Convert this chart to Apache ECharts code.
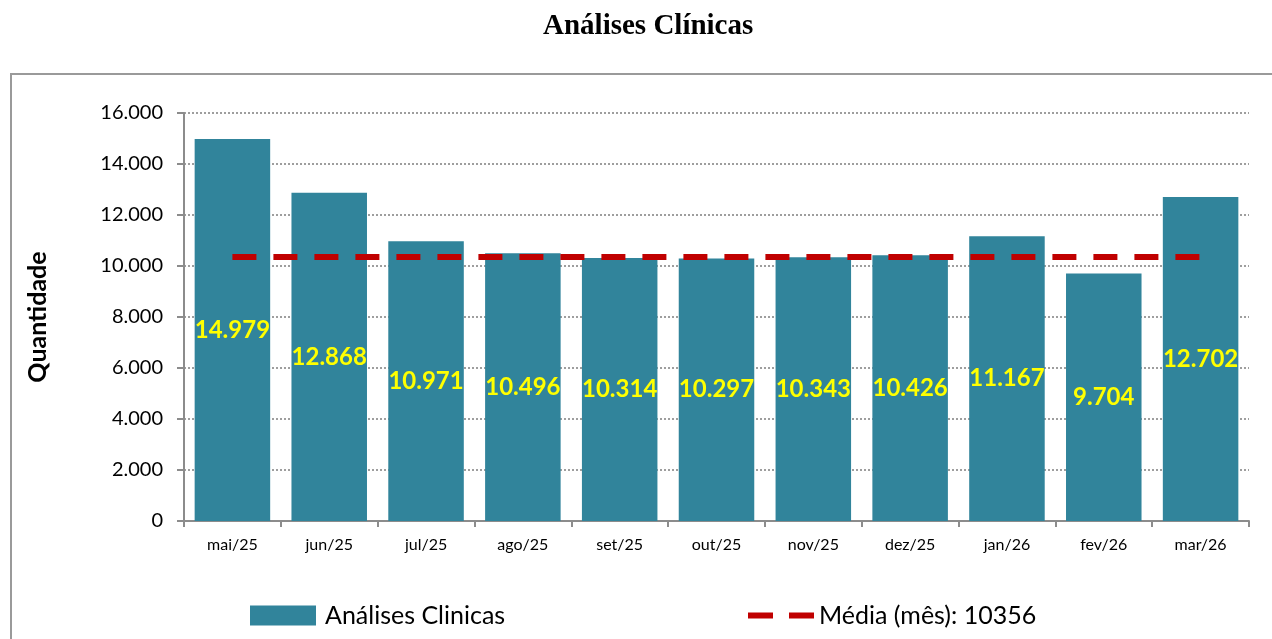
<!DOCTYPE html>
<html>
<head>
<meta charset="utf-8">
<script src="https://cdn.jsdelivr.net/npm/echarts@6/dist/echarts.min.js"></script>
<style>
  html, body { margin: 0; padding: 0; background: #fff; }
  #chart { width: 1272px; height: 639px; }
</style>
</head>
<body>
<div id="chart"></div>
<script>
// dados do gráfico
const meses = ['mai/25', 'jun/25', 'jul/25', 'ago/25', 'set/25', 'out/25', 'nov/25', 'dez/25', 'jan/26', 'fev/26', 'mar/26'];
const quantidade = [14979, 12868, 10971, 10496, 10314, 10297, 10343, 10426, 11167, 9704, 12702];
const mediaMes = 10356;
const media = meses.map(() => mediaMes);
const yTicks = [0, 2000, 4000, 6000, 8000, 10000, 12000, 14000, 16000];

const fmt = (v) => String(v).replace(/\B(?=(\d{3})+(?!\d))/g, '.');
const fonte = 'Lato, "Noto Sans", sans-serif';

let chart = echarts.init(document.getElementById('chart'));

chart.setOption({
  animation: false,
  title: {
    text: 'Análises Clínicas',
    left: 538,
    top: 7,
    textStyle: { fontFamily: '"Liberation Serif", serif', fontSize: 29, fontWeight: 'bold', color: '#000' }
  },
  graphic: [{
    type: 'rect',
    shape: { x: 11, y: 74, width: 1300, height: 600 },
    style: { fill: 'none', stroke: '#9a9a9a', lineWidth: 2 }
  }],
  legend: [{
    data: ['Análises Clinicas'],
    left: 245,
    top: 598,
    itemWidth: 66,
    itemHeight: 20,
    icon: 'rect',
    textStyle: { fontFamily: fonte, fontSize: 25, color: '#000', padding: [0, 0, 0, 4] }
  }, {
    data: ['Média (mês): 10356'],
    left: 743,
    top: 598,
    itemWidth: 66,
    itemHeight: 6,
    icon: 'path://M0,0 H25 V6 H0 Z M41,0 H66 V6 H41 Z',
    textStyle: { fontFamily: fonte, fontSize: 25, color: '#000' }
  }],
  grid: { left: 184, right: 23, top: 113, bottom: 118 },
  xAxis: {
    type: 'category',
    data: meses,
    axisLine: { lineStyle: { color: '#8c8c8c', width: 2 } },
    axisTick: { show: true, length: 6, lineStyle: { color: '#8c8c8c', width: 2 } },
    axisLabel: { fontFamily: fonte, fontSize: 16, color: '#000', margin: 16 }
  },
  yAxis: {
    type: 'value',
    min: yTicks[0],
    max: yTicks[yTicks.length - 1],
    interval: 2000,
    name: 'Quantidade',
    nameLocation: 'middle',
    nameGap: 134,
    nameRotate: 90,
    nameTextStyle: { fontFamily: fonte, fontSize: 25, fontWeight: 'bold', color: '#000' },
    axisLine: { show: true, lineStyle: { color: '#8c8c8c', width: 2 } },
    axisTick: { show: true, length: 7, lineStyle: { color: '#8c8c8c', width: 2 } },
    axisLabel: { fontFamily: fonte, fontSize: 20, color: '#000', margin: 21, formatter: (v) => fmt(v) },
    splitLine: { lineStyle: { color: '#7f7f7f', type: [2, 2], width: 1.5 } }
  },
  series: [{
    name: 'Análises Clinicas',
    type: 'bar',
    data: quantidade,
    barCategoryGap: '22%',
    itemStyle: { color: '#31849B' },
    label: {
      show: true,
      position: 'inside',
      formatter: (p) => fmt(p.value),
      fontFamily: fonte,
      fontSize: 24,
      fontWeight: 'bold',
      color: '#FFFF00'
    }
  }, {
    name: 'Média (mês): 10356',
    type: 'line',
    data: media,
    symbol: 'none',
    z: 5,
    itemStyle: { color: '#C00000' },
    lineStyle: { color: '#C00000', width: 6, type: [24, 17] }
  }]
});
</script>
</body>
</html>
